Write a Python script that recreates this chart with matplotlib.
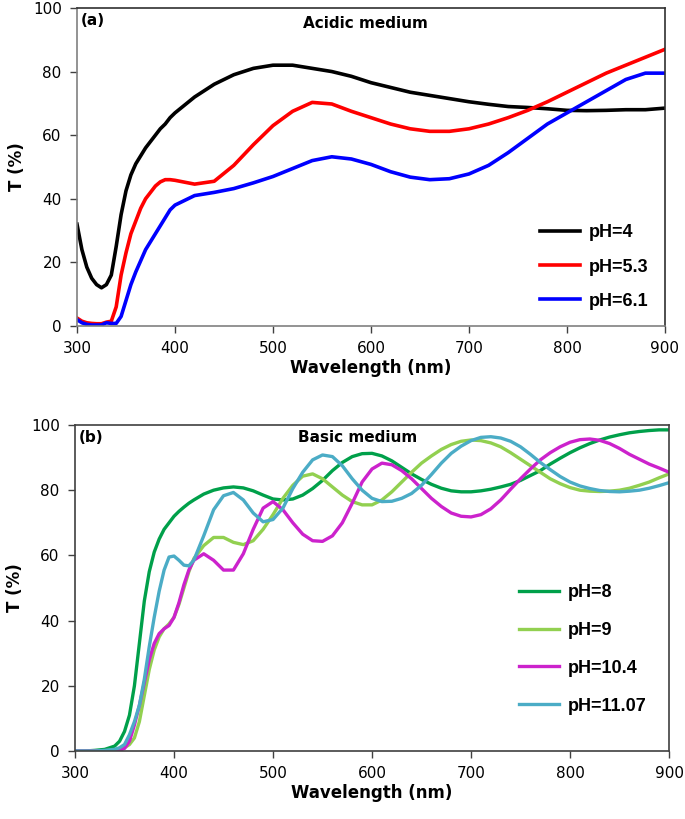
import matplotlib
matplotlib.use('Agg')
import matplotlib.pyplot as plt

# ---- panel (a): acidic medium ----
wl_a = [300, 305, 310, 315, 320, 325, 330, 335, 340, 345, 350, 355, 360, 365, 370,
        375, 380, 385, 390, 395,
        400, 420, 440, 460, 480, 500, 520, 540, 560, 580, 600, 620, 640, 660, 680,
        700, 720, 740, 760, 780, 800, 820, 840, 860, 880, 900]
t_ph4 = [32, 24, 18.5, 15, 13, 12, 13, 16, 25, 35, 42.5, 47.5, 51, 53.5, 56,
         58, 60, 62, 63.5, 65.5,
         67, 72, 76, 79, 81, 82, 82, 81, 80, 78.5, 76.5, 75, 73.5, 72.5, 71.5,
         70.5, 69.7, 69, 68.7, 68.3, 67.8, 67.7, 67.8, 68, 68, 68.5]
t_ph53 = [2.5, 1.5, 1, 0.8, 0.7, 0.7, 1.2, 1.5, 6, 16, 23, 29, 33, 37, 40,
          42, 44, 45.3, 46, 46,
          45.8, 44.6, 45.5, 50.5, 57, 63, 67.5, 70.3, 69.8, 67.5, 65.5, 63.5, 62, 61.2, 61.2,
          62, 63.5, 65.5, 67.8, 70.5, 73.5, 76.5, 79.5, 82, 84.5, 87]
t_ph61 = [2, 1, 0.5, 0.3, 0.3, 0.3, 1, 0.8, 0.8, 3, 8, 13, 17, 20.5, 24,
          26.5, 29, 31.5, 34, 36.5,
          38, 41, 42, 43.2, 45, 47, 49.5, 52, 53.2, 52.5, 50.8, 48.5, 46.8, 46, 46.3,
          47.8, 50.5, 54.5, 59, 63.5, 67, 70.5, 74, 77.5, 79.5, 79.5]
labels_a = ['pH=4', 'pH=5.3', 'pH=6.1']
colors_a = ['black', '#FF0000', '#0000FF']

# ---- panel (b): basic medium ----
wl_b = [300, 310, 320, 330, 340,
        345, 350, 355, 360, 365, 370, 375, 380, 385, 390, 395, 400, 405, 410, 415, 420,
        430, 440, 450, 460, 470, 480, 490, 500, 510, 520, 530, 540, 550, 560, 570, 580,
        590, 600, 610, 620, 630, 640, 650, 660, 670, 680, 690, 700, 710, 720, 730, 740,
        750, 760, 770, 780, 790, 800, 810, 820, 830, 840, 850, 860, 870, 880, 890, 900]
t_ph8 = [0, 0, 0.2, 0.5, 1.5,
         3, 6, 11, 20, 33, 46, 55, 61, 65, 68, 70, 72, 73.5, 74.8, 76, 77,
         78.8, 80, 80.7, 81, 80.7, 79.8, 78.5, 77.3, 77, 77.3, 78.5, 80.5, 83, 86, 88.5, 90.3,
         91.2, 91.3, 90.5, 89, 87, 85, 83.3, 81.8, 80.6, 79.8, 79.5, 79.5, 79.8, 80.3, 81, 81.8,
         83, 84.5, 86, 88, 89.8, 91.5, 93, 94.3, 95.4, 96.3, 97, 97.6, 98, 98.3, 98.5, 98.5]
t_ph9 = [0, 0, 0, 0.1, 0.3,
         0.5, 1, 2, 4, 9, 17, 25, 31, 35, 37.5, 39, 41, 45, 50, 55, 59,
         63, 65.5, 65.5, 64, 63.3, 64.5, 68, 72.5, 77.5, 81.5, 84.3, 85, 83.5, 81, 78.5, 76.5,
         75.5, 75.5, 77, 79.5, 82.5, 85.5, 88.3, 90.5, 92.5, 94, 95, 95.4, 95.2, 94.5, 93.3, 91.5,
         89.5, 87.5, 85.5, 83.5, 82, 80.8, 80, 79.7, 79.6, 79.7, 80, 80.6, 81.5, 82.5, 83.8, 85]
t_ph104 = [0, 0, 0, 0, 0,
           0.2, 0.8, 3, 8, 14, 21, 28, 33, 36, 37.5, 38.5, 41, 45.5, 51, 55.5, 58.5,
           60.5, 58.5, 55.5, 55.5, 60.5, 68, 74.5, 76.5, 74, 70, 66.5, 64.5, 64.3, 66, 70, 76,
           82.5, 86.5, 88.3, 87.8, 86, 83.5, 80.5, 77.5, 75, 73, 72, 71.8, 72.5, 74.3, 77, 80.3,
           83.5, 86.5, 89.3, 91.5, 93.3, 94.7, 95.5, 95.7, 95.3, 94.3, 92.8, 91, 89.5, 88, 86.8, 85.5]
t_ph1107 = [0, 0, 0, 0.2, 0.5,
            1, 2, 5, 9, 14, 22, 32, 41, 49, 55.5, 59.5, 59.8, 58.5, 57, 56.8, 58.5,
            66, 74, 78.3, 79.3, 77, 73, 70.3, 71, 74.5, 80.5, 85.5, 89.3, 90.8, 90.3, 87.5, 83.5,
            80, 77.5, 76.5, 76.6, 77.5, 79, 81.5, 84.8, 88.3, 91.3, 93.5, 95.2, 96.2, 96.4, 96, 95,
            93.3, 91, 88.5, 86.3, 84.2, 82.5, 81.3, 80.5, 79.9, 79.6, 79.5, 79.7, 80, 80.6, 81.4, 82.3]
labels_b = ['pH=8', 'pH=9', 'pH=10.4', 'pH=11.07']
colors_b = ['#00A04A', '#92D050', '#CC22CC', '#4BACC6']


def style_axes(ax, spine_col):
    ax.set_xlim(300, 900)
    ax.set_ylim(0, 100)
    ax.set_xticks([300, 400, 500, 600, 700, 800, 900])
    ax.set_yticks([0, 20, 40, 60, 80, 100])
    ax.tick_params(direction='out', length=5, width=1, labelsize=11, pad=6, colors='#404040',
                   labelcolor='black')
    for s in ax.spines.values():
        s.set_color(spine_col)
        s.set_linewidth(1.2)
    ax.set_xlabel('Wavelength (nm)', fontsize=12, fontweight='bold', labelpad=2)
    ax.set_ylabel('T (%)', fontsize=12, fontweight='bold', labelpad=5)


fig = plt.figure(figsize=(6.85, 8.19), dpi=100)

ax1 = fig.add_axes([0.1124, 0.6020, 0.8584, 0.3883])
for y, lab, c in zip([t_ph4, t_ph53, t_ph61], labels_a, colors_a):
    ax1.plot(wl_a, y, color=c, lw=2.6, label=lab, solid_joinstyle='round')
style_axes(ax1, '#808080')
ax1.spines['top'].set_color('#303030')
ax1.spines['right'].set_color('#303030')
ax1.text(0.006, 0.985, '(a)', transform=ax1.transAxes, ha='left', va='top',
         fontsize=11, fontweight='bold')
ax1.text(0.49, 0.975, 'Acidic medium', transform=ax1.transAxes, ha='center', va='top',
         fontsize=11, fontweight='bold')
ax1.legend(loc='lower right', bbox_to_anchor=(1.0, 0.0), frameon=False,
           handlelength=2.2, labelspacing=0.95, handletextpad=0.5,
           prop={'family': 'Liberation Sans', 'weight': 'bold', 'size': 13})

ax2 = fig.add_axes([0.1095, 0.0830, 0.8672, 0.3981])
for y, lab, c in zip([t_ph8, t_ph9, t_ph104, t_ph1107], labels_b, colors_b):
    ax2.plot(wl_b, y, color=c, lw=2.4, label=lab, solid_joinstyle='round')
style_axes(ax2, '#404040')
ax2.text(0.006, 0.985, '(b)', transform=ax2.transAxes, ha='left', va='top',
         fontsize=11, fontweight='bold')
ax2.text(0.475, 0.985, 'Basic medium', transform=ax2.transAxes, ha='center', va='top',
         fontsize=11, fontweight='bold')
ax2.legend(loc='lower right', bbox_to_anchor=(0.99, 0.062), frameon=False,
           handlelength=2.2, labelspacing=1.15, handletextpad=0.5,
           prop={'family': 'Liberation Sans', 'weight': 'bold', 'size': 13})

fig.savefig('out.png', dpi=100)
